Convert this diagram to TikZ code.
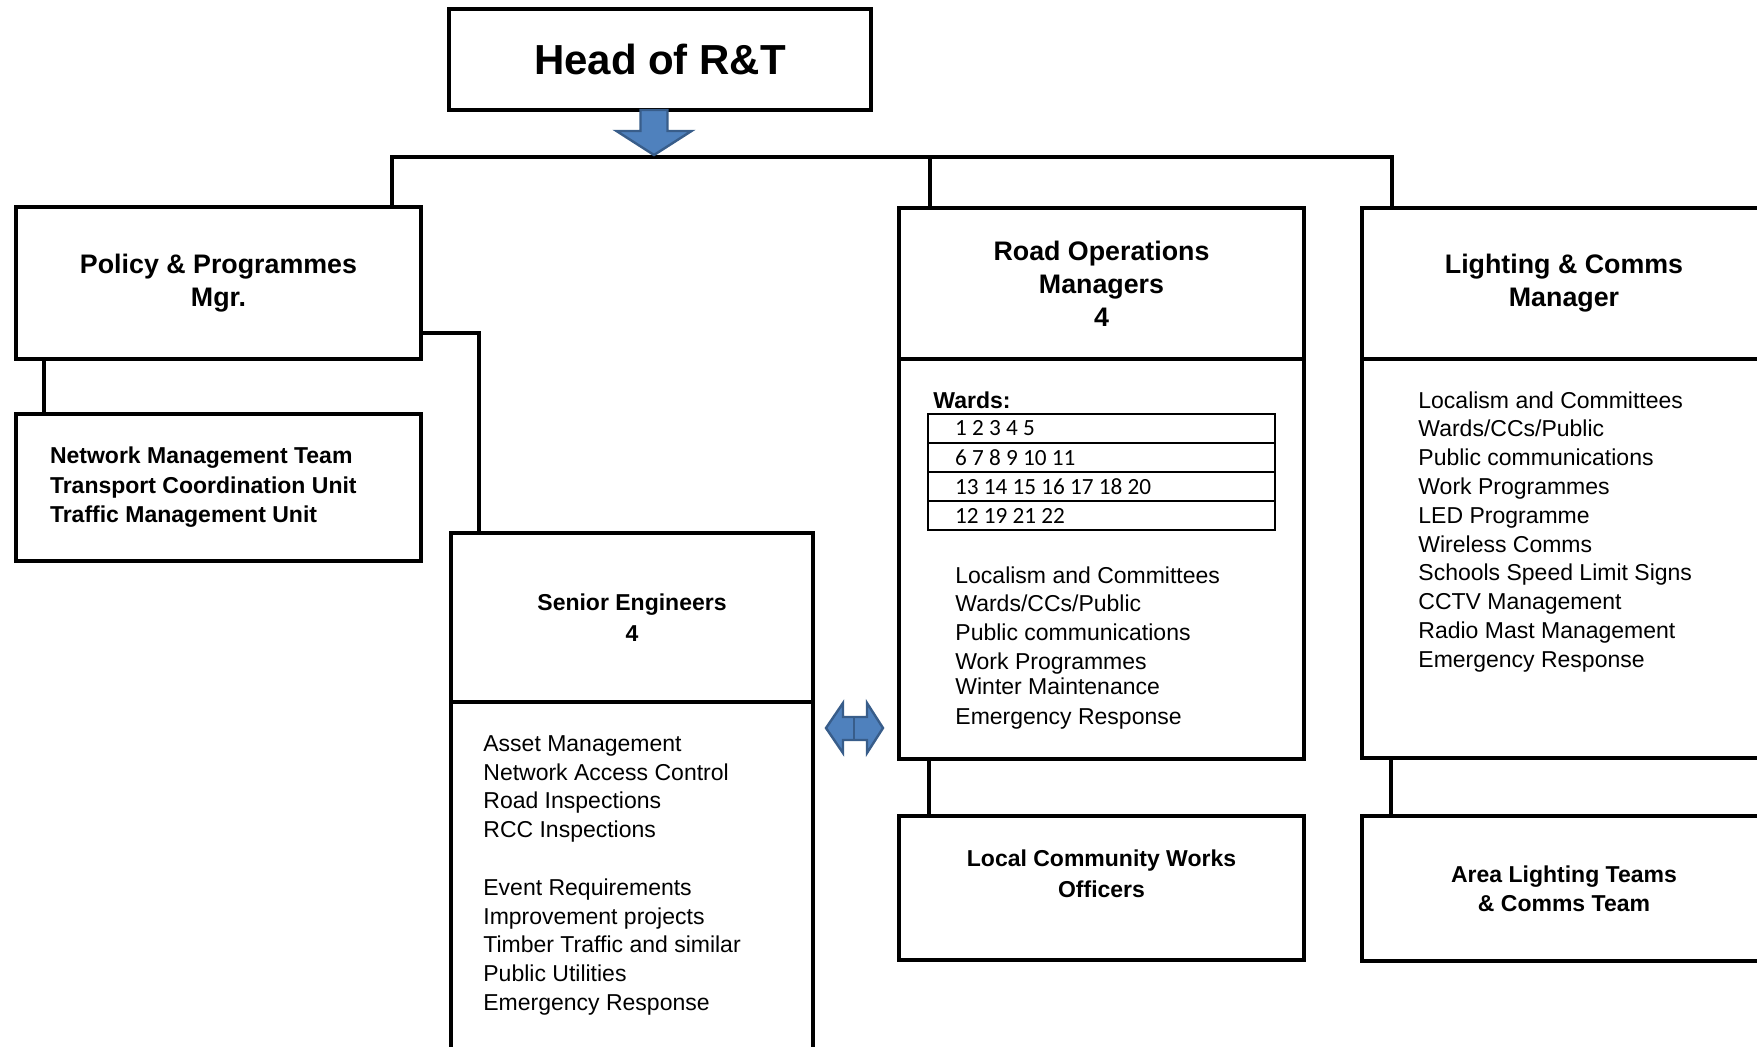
\documentclass[tikz,border=0pt]{standalone}
\usepackage{fontspec}
\setmainfont{Liberation Sans}
\newfontfamily\wardfont{Carlito}
\usepackage{tikz}
\usetikzlibrary{positioning}
\definecolor{arrowblue}{RGB}{79,129,189}
\definecolor{arrowedge}{RGB}{56,93,138}
\tikzset{box/.style={draw, line width=2pt, outer sep=0pt, inner sep=0pt, align=center},
	titlebox/.style={box, font=\fontsize{13.4}{16.6}\selectfont\bfseries},
	subbox/.style={box, font=\fontsize{11.5}{15.5}\selectfont\bfseries},
	items/.style={inner sep=0pt, align=left, font=\fontsize{11.5}{14.4}\selectfont},
	ward/.style={draw, line width=0.9pt, outer sep=0pt, inner xsep=13.5pt, inner ysep=0pt,
		minimum width=173.5pt, minimum height=14.5pt, text width=146.5pt, align=flush left,
		font=\wardfont\fontsize{11.6}{13}\selectfont},
	link/.style={line width=2.4pt},
	blockarrow/.style={fill=arrowblue, draw=arrowedge, line width=1.2pt}}

\begin{document}
\begin{tikzpicture}[x=0.5pt, y=-0.5pt]
	\useasboundingbox (0,0) rectangle (1757,1046);
	\clip (0,0) rectangle (1757,1046);

	\node[box, minimum width=211pt, minimum height=50.5pt, anchor=north west,
		font=\fontsize{21}{25}\selectfont\bfseries] (head) at (449,9) {Head of R\&T};

	% left column
	\node[titlebox, minimum width=202.5pt, minimum height=76pt, anchor=north west] (policy) at (16,207) {Policy \& Programmes\\Mgr.};
	\node[box, below=27.5pt of policy, minimum width=202.5pt, minimum height=73.5pt, text width=168.5pt,
		inner xsep=17pt, align=flush left, font=\fontsize{11.5}{14.75}\selectfont\bfseries] (network)
		{Network Management Team\\Transport Coordination Unit\\Traffic Management Unit};

	\node[subbox, minimum width=181pt, minimum height=84.5pt, anchor=north west] (senior) at (451,533) {Senior Engineers\\4};
	\node[box, minimum width=181pt, minimum height=179pt, below=0pt of senior] (seniorbody) {};
	\node[items, below right=16.5pt and 16pt of seniorbody.north west] (seniorlist)
		{Asset Management\\Network Access Control\\Road Inspections\\RCC Inspections\\[14.4pt]Event Requirements\\Improvement projects\\Timber Traffic and similar\\Public Utilities\\Emergency Response};

	% road operations
	\node[titlebox, minimum width=202.5pt, minimum height=75.5pt, anchor=north west] (road) at (899,208) {Road Operations\\Managers\\4};
	\node[box, minimum width=202.5pt, minimum height=200pt, below=0pt of road] (roadbody) {};
	\node[items, font=\fontsize{11.5}{14.4}\selectfont\bfseries, below right=16pt and 17pt of roadbody.north west] (wards) {Wards:};
	\node[ward, below right=27.5pt and 14.5pt of roadbody.north west] (row1) {1 2 3 4 5};
	\node[ward, below=0pt of row1] (row2) {6 7 8 9 10 11};
	\node[ward, below=0pt of row2] (row3) {13 14 15 16 17 18 20};
	\node[ward, below=0pt of row3] (row4) {12 19 21 22};
	\node[items, below right=18pt and 13.5pt of row4.south west] (roadlist)
		{Localism and Committees\\Wards/CCs/Public\\Public communications\\Work Programmes\\[-2pt]Winter Maintenance\\[0.6pt]Emergency Response};
	\node[subbox, minimum width=202.5pt, minimum height=72pt, below=28.5pt of roadbody] (local) {};
	\node[font=\fontsize{11.5}{15.5}\selectfont\bfseries, align=center] (localtext) at ([yshift=7.25pt]local.center)
		{Local Community Works\\Officers};

	% lighting
	\node[titlebox, minimum width=202pt, minimum height=75.5pt, anchor=north west] (light) at (1362,208) {Lighting \& Comms\\Manager};
	\node[box, minimum width=202pt, minimum height=199.5pt, below=0pt of light] (lightbody) {};
	\node[items, below right=16pt and 28pt of lightbody.north west] (lightlist)
		{Localism and Committees\\Wards/CCs/Public\\Public communications\\Work Programmes\\LED Programme\\Wireless Comms\\Schools Speed Limit Signs\\CCTV Management\\Radio Mast Management\\Emergency Response};
	\node[subbox, minimum width=202pt, minimum height=72.5pt, below=29pt of lightbody, font=\fontsize{11.5}{14.5}\selectfont\bfseries] (area)
		{Area Lighting Teams\\\& Comms Team};

	% connectors
	\coordinate (busL) at (392,157);
	\coordinate (busM) at (930,157);
	\coordinate (busR) at (1392,157);
	\draw[link] (busL |- policy.north) -- (busL) -- (busR) -- (busR |- light.north);
	\draw[link] (busM) -- (busM |- road.north);
	\draw[link] ([xshift=14pt]policy.south west) -- ([xshift=14pt]network.north west);
	\draw[link] ([yshift=-25pt]policy.east) -| ([xshift=14pt]senior.north west);
	\draw[link] ([xshift=15pt]roadbody.south west) -- ([xshift=15pt]local.north west);
	\draw[link] ([xshift=14.5pt]lightbody.south west) -- ([xshift=14.5pt]area.north west);

	% block arrows
	\draw[blockarrow] ([xshift=-3pt]head.south) ++(-13.5,0) -- ++(27,0) -- ++(0,21) -- ++(24,0)
		-- ++(-37.5,24) -- ++(-37.5,-24) -- ++(24,0) -- cycle;
	\coordinate (swap) at (854,728);
	\draw[blockarrow] (swap) ++(-28,0) -- ++(17,-25) -- ++(0,14) -- ++(24,0) -- ++(0,-14) -- ++(16,25)
		-- ++(-16,25) -- ++(0,-13) -- ++(-24,0) -- ++(0,13) -- cycle;
	\draw[arrowedge, line width=1.2pt] (swap) ++(0,-11) -- ++(0,23);
\end{tikzpicture}
\end{document}
